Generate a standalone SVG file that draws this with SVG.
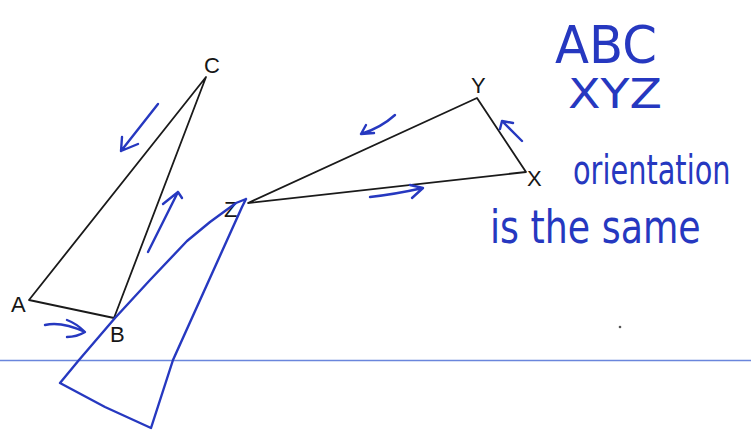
<svg xmlns="http://www.w3.org/2000/svg" width="751" height="431" viewBox="0 0 751 431">
<style>
.tri{fill:none;stroke:#1a1a1a;stroke-width:1.8;stroke-linejoin:round}
.ink{fill:none;stroke:#2638c0;stroke-width:2.4;stroke-linecap:round;stroke-linejoin:round}
.lbl{font-family:"Liberation Sans",Arial,sans-serif;font-size:22px;fill:#161616}
.hw{font-family:"DejaVu Sans","Liberation Sans",sans-serif;fill:#2638c0}
</style>
<rect width="751" height="431" fill="#ffffff"/>
<line x1="0" y1="360.5" x2="751" y2="360.5" stroke="#6a86dc" stroke-width="1.5"/>
<g id="triangle-abc">
<polygon class="tri" points="29,300 114,318 206,77"/>
<text class="lbl" x="204" y="73">C</text>
<text class="lbl" x="11" y="312">A</text>
<text class="lbl" x="110" y="342">B</text>
</g>
<g id="triangle-xyz">
<polygon class="tri" points="248,203 477,98 526,172"/>
<text class="lbl" x="471" y="93">Y</text>
<text class="lbl" x="527" y="186">X</text>
<text class="lbl" x="224" y="217">Z</text>
</g>
<g id="blue-quad">
<path class="ink" d="M246,199 L236,203 L210,222 L187,241 L150,280 L115,318 L79,360 L60,383 L105,407 L151,428 L173,360 L242,207 L246,199"/>
</g>
<g id="arrows">
<path class="ink" d="M158,104 L121,151 M122,137 L121,151 L138,144"/>
<path class="ink" d="M148,252 L178,192 M163,204 L178,192 L182,198"/>
<path class="ink" d="M45,325 C58,322 72,326 85,332 M67,320 C75,323 80,327 85,332 C80,335 74,337 67,337"/>
<path class="ink" d="M395,115 C385,124 374,130 361,134 M366,125 L361,134 L374,133"/>
<path class="ink" d="M522,141 L502,121 M500,129 L502,121 L513,123"/>
<path class="ink" d="M370,197 C388,195 405,192 423,188 M410,185 L423,188 L412,198"/>
</g>
<g id="notes">
<text class="hw" x="555" y="63" font-size="52" textLength="102" lengthAdjust="spacingAndGlyphs">ABC</text>
<text class="hw" x="568" y="108" font-size="40" textLength="94" lengthAdjust="spacingAndGlyphs">XYZ</text>
<text class="hw" font-size="40" transform="translate(573,184) scale(0.72,1)">orientation</text>
<text class="hw" font-size="46" transform="translate(490,243) scale(0.79,1)">is the same</text>
</g>
<circle cx="620" cy="327" r="1.3" fill="#555"/>
</svg>
